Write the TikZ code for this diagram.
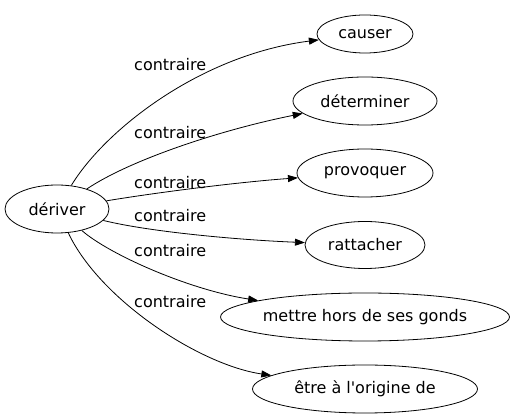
\documentclass[tikz,border=0pt]{standalone}
\usepackage{fontspec}
\setmainfont{DejaVu Sans}
\usepackage{tikz}
\usetikzlibrary{shapes.geometric, arrows.meta}
\tikzstyle{word} = [ellipse, minimum height=48pt, inner sep=0pt, text centered, draw=black, line width=0.8pt, font=\fontsize{16}{19}\selectfont]
\tikzstyle{rel} = [anchor=base west, inner sep=0pt, font=\fontsize{16}{19}\selectfont]
\tikzset{arw/.style={-{Triangle[length=10pt,width=7pt]},line width=0.8pt}}

\begin{document}
\begin{tikzpicture}[x=1pt, y=-1pt, node distance=72pt]
			\useasboundingbox (0,0) rectangle (512,419);
			\node (deriver) [word, minimum width=104pt] at (57,209) {dériver};
			\node (causer) [word, minimum width=96pt, minimum height=38pt] at (365,34) {causer};
			\node (determiner) [word, below of = causer, yshift = 5pt, minimum width=144pt] {déterminer};
			\node (provoquer) [word, below of = determiner, minimum width=136pt] {provoquer};
			\node (rattacher) [word, below of = provoquer, minimum width=120pt, minimum height=47pt] {rattacher};
			\node (gonds) [word, below of = rattacher, minimum width=284pt] {mettre hors de ses gonds};
			\node (origine) [word, below of = gonds, minimum width=225pt] {être à l\textquotesingle origine de};
			
			\node (l1) [rel] at (134,71) {contraire};
			\node (l2) [rel] at (134,139) {contraire};
			\node (l3) [rel] at (134,189) {contraire};
			\node (l4) [rel] at (134,222) {contraire};
			\node (l5) [rel] at (134,257) {contraire};
			\node (l6) [rel] at (134,308) {contraire};
			
			
			\draw [arw] (deriver) .. controls (105,130) and (200,55) .. (causer);
			\draw [arw] (deriver) .. controls (130,160) and (220,130) .. (determiner);
			\draw [arw] (deriver) .. controls (160,192) and (240,182) .. (provoquer);
			\draw [arw] (deriver) .. controls (150,232) and (240,240) .. (rattacher);
			\draw [arw] (deriver) .. controls (110,255) and (190,290) .. (gonds);
			\draw [arw] (deriver) .. controls (100,300) and (200,365) .. (origine);
			
			
			\end{tikzpicture}
\end{document}
